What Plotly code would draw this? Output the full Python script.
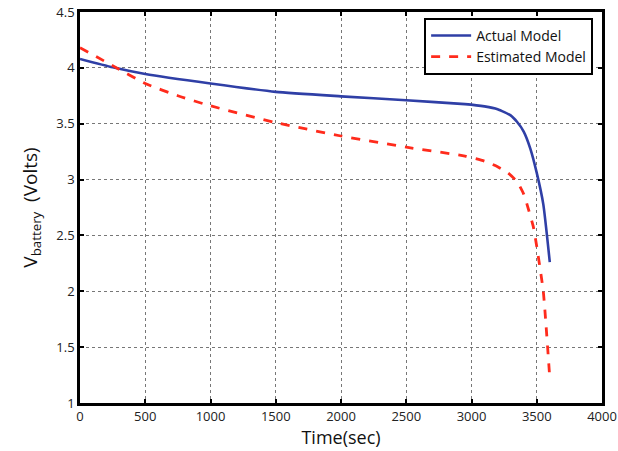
import plotly.graph_objects as go

# Data
t_actual = [0, 250, 500, 1000, 1500, 2000, 2500, 2950, 3100, 3200, 3300, 3350, 3400, 3450, 3500, 3550, 3600]
v_actual = [4.08, 4.005, 3.945, 3.86, 3.785, 3.745, 3.71, 3.675, 3.655, 3.63, 3.575, 3.515, 3.43, 3.28, 3.06, 2.78, 2.26]

t_est = [0, 250, 500, 750, 1000, 1500, 2000, 2500, 2950, 3100, 3200, 3280, 3350, 3400, 3440, 3475, 3500, 3550, 3600]
v_est = [4.18, 4.02, 3.86, 3.75, 3.66, 3.51, 3.39, 3.29, 3.21, 3.165, 3.115, 3.06, 2.98, 2.87, 2.72, 2.57, 2.40, 2.00, 1.22]

x_ticks = [0, 500, 1000, 1500, 2000, 2500, 3000, 3500, 4000]
y_ticks = [1, 1.5, 2, 2.5, 3, 3.5, 4, 4.5]
y_tick_labels = ["1", "1.5", "2", "2.5", "3", "3.5", "4", "4.5"]

FONT = "Open Sans"

fig = go.Figure()
fig.add_trace(go.Scatter(x=t_actual, y=v_actual, mode="lines", name="Actual Model",
                         line=dict(color="#2f3fa6", width=2.6, shape="spline", smoothing=0.5)))
fig.add_trace(go.Scatter(x=t_est, y=v_est, mode="lines", name="Estimated Model",
                         line=dict(color="#ff2b1c", width=2.8, dash="dash", shape="spline", smoothing=0.5)))

axis_common = dict(showline=True, linecolor="black", linewidth=2.5, mirror="allticks",
                   ticks="inside", ticklen=4, tickwidth=1.5, tickcolor="black",
                   showgrid=True, gridcolor="#777777", griddash="dot", gridwidth=1,
                   zeroline=False, automargin=False, ticklabeloverflow="allow",
                   tickfont=dict(family=FONT, size=13, color="#222222"))

fig.update_xaxes(range=[0, 4000], tickvals=x_ticks,
                 title=dict(text="Time(sec)", font=dict(family=FONT, size=18, color="#111111"), standoff=0),
                 **axis_common)
fig.update_yaxes(range=[1, 4.5], tickvals=y_ticks, ticktext=y_tick_labels,
                 title=dict(text="V<sub>battery</sub>  (Volts)", font=dict(family=FONT, size=19, color="#111111"), standoff=14),
                 **axis_common)

fig.update_layout(
    width=618, height=451,
    margin=dict(l=80, r=16, t=12, b=48),
    plot_bgcolor="white", paper_bgcolor="white",
    legend=dict(x=0.983, y=0.985, xanchor="right", yanchor="top",
                bgcolor="white", bordercolor="black", borderwidth=2,
                font=dict(family=FONT, size=14, color="#111111"),
                tracegroupgap=0, itemwidth=40),
)

fig.write_html("out.html")
